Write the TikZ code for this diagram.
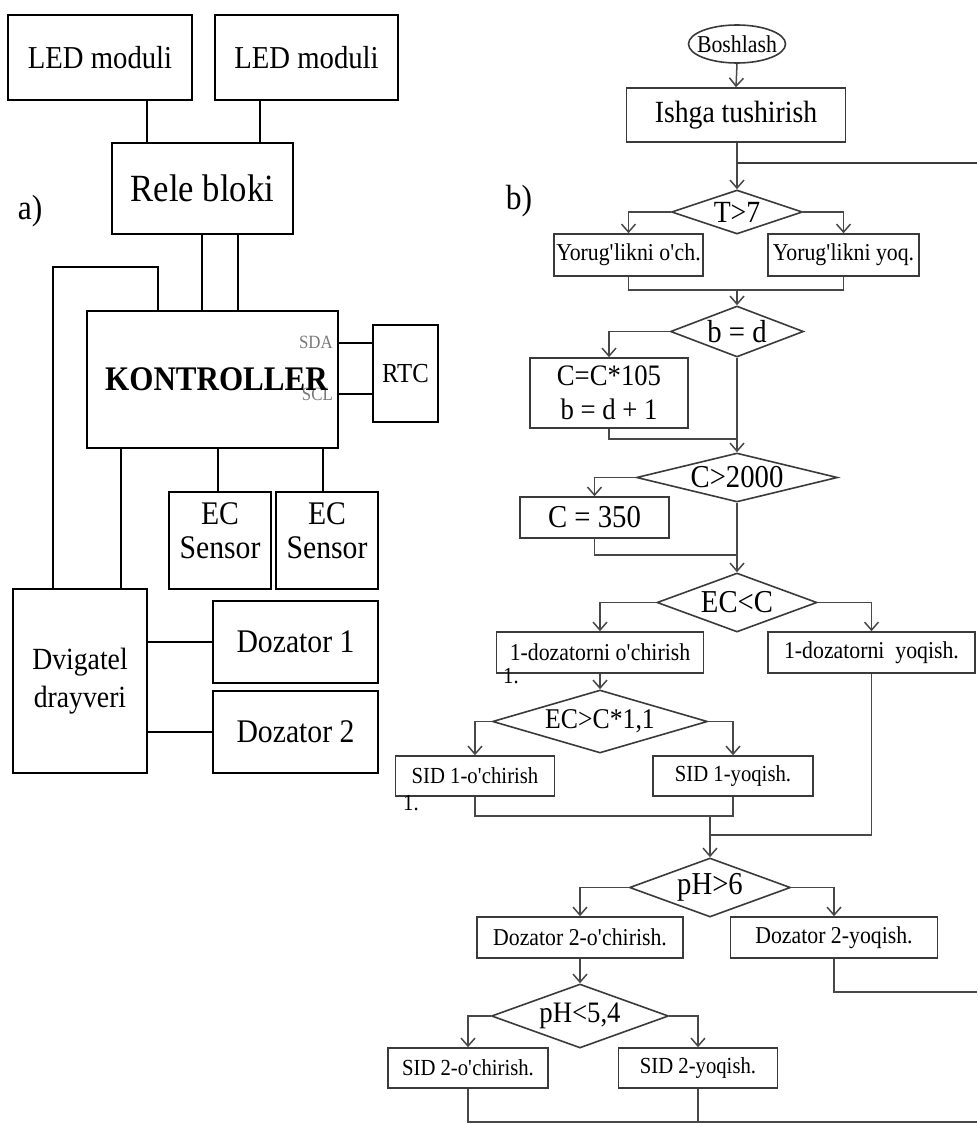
\documentclass[tikz,border=0pt]{standalone}
\usepackage{fontspec}
\setmainfont{Liberation Serif}[FakeStretch=0.9]
\usetikzlibrary{shapes.geometric,arrows.meta}
\newcommand\ap{\textquotesingle}
\definecolor{fline}{RGB}{72,72,72}
\definecolor{fbord}{RGB}{58,58,58}
\definecolor{pinc}{RGB}{120,120,120}

\begin{document}
\begin{tikzpicture}[x=1pt,y=-1pt,
  blk/.style={draw=black, line width=2.4pt, rectangle, inner sep=0pt},
  wire/.style={draw=black, line width=2.3pt},
  fbox/.style={draw=fbord, line width=1.6pt, rectangle, inner sep=0pt},
  fdia/.style={draw=fbord, line width=1.6pt, diamond, inner sep=0pt},
  flow/.style={draw=fline, line width=1.5pt},
  arr/.style={flow, -{Straight Barb[length=8pt,width=14pt]}},
  topret/.style={draw=fline!80!black, line width=2.4pt},
  f17/.style={font=\fontsize{18.7pt}{22pt}\selectfont},
  f21/.style={font=\fontsize{23pt}{27pt}\selectfont},
  f22/.style={font=\fontsize{24.2pt}{28pt}\selectfont},
  f26/.style={font=\fontsize{28.6pt}{32pt}\selectfont},
  f27/.style={font=\fontsize{29.7pt}{34pt}\selectfont},
  f28/.style={font=\fontsize{30.8pt}{38pt}\selectfont},
  f29/.style={font=\fontsize{31.9pt}{36pt}\selectfont},
  f30/.style={font=\fontsize{33pt}{34pt}\selectfont},
  f32/.style={font=\fontsize{35pt}{40pt}\selectfont},
  f35/.style={font=\fontsize{38.5pt}{42pt}\selectfont},
  fkb/.style={font=\fontsize{34.5pt}{40pt}\selectfont\bfseries},
]
\useasboundingbox (0,0) rectangle (977,1124);

% ---------------- a) block diagram ----------------
\node[f32] (la) at (30,211) {a)};
\node[blk, f29, minimum width=184pt, minimum height=85pt] (led1) at (100,57.5) {LED moduli};
\node[blk, f29, minimum width=183pt, minimum height=85pt] (led2) at (306.5,57.5) {LED moduli};
\node[blk, f35, minimum width=181pt, minimum height=91pt] (rele) at (202.5,188.5) {Rele bloki};

% pin names of the I2C bus (drawn under the controller title)
\node[f17, text=pinc, anchor=base east, inner sep=0pt] (sda) at (333,348) {SDA};
\node[f17, text=pinc, anchor=base east, inner sep=0pt] (scl) at (333,400) {SCL};
\node[blk, minimum width=251pt, minimum height=137pt,
  label={[fkb, xshift=4pt]center:KONTROLLER}] (ctrl) at (212.5,379.5) {};

\node[blk, font=\fontsize{27.5pt}{32pt}\selectfont, minimum width=65pt, minimum height=97pt] (rtc) at (405.5,373.5) {RTC};
\node[blk, minimum width=102pt, minimum height=97pt,
  label={[f30, align=center, yshift=10pt]center:EC\\Sensor}] (ec1) at (220,540.5) {};
\node[blk, minimum width=102pt, minimum height=97pt,
  label={[f30, align=center, yshift=10pt]center:EC\\Sensor}] (ec2) at (327,540.5) {};
\node[blk, f28, align=center, minimum width=134pt, minimum height=184pt] (drv) at (80,681) {Dvigatel\\drayveri};
\node[blk, f30, minimum width=165pt, minimum height=82pt] (doz1) at (295.5,642) {Dozator 1};
\node[blk, f30, minimum width=165pt, minimum height=82pt] (doz2) at (295.5,732) {Dozator 2};

\draw[wire] (147,0 |- led1.south) -- (147,0 |- rele.north);
\draw[wire] (260,0 |- led2.south) -- (260,0 |- rele.north);
\draw[wire] (202,0 |- rele.south) -- (202,0 |- ctrl.north);
\draw[wire] (238,0 |- rele.south) -- (238,0 |- ctrl.north);
\coordinate (lp) at (53,267);
\draw[wire] (158,0 |- ctrl.north) |- (lp) -- (lp |- drv.north);
\draw[wire] (121,0 |- ctrl.south) -- (121,0 |- drv.north);
\draw[wire] (218,0 |- ctrl.south) -- (218,0 |- ec1.north);
\draw[wire] (323,0 |- ctrl.south) -- (323,0 |- ec2.north);
\draw[wire] (ctrl.east |- 0,343) -- (rtc.west |- 0,343);
\draw[wire] (ctrl.east |- 0,394) -- (rtc.west |- 0,394);
\draw[wire] (drv.east |- doz1.west) -- (doz1.west);
\draw[wire] (drv.east |- doz2.west) -- (doz2.west);

% ---------------- b) flowchart ----------------
\node[f32] (lb) at (519,201) {b)};
\node[ellipse, draw=fbord, line width=1.6pt, inner sep=0pt, minimum width=97pt, minimum height=38pt,
  label={[f22]center:Boshlash}] (start) at (737,44) {};
\node[fbox, f28, minimum width=219pt, minimum height=54pt] (init) at (736,115) {Ishga tushirish};

\node[fdia, minimum width=131pt, minimum height=44pt, label={[f28]center:T>7}] (dT) at (737,212) {};
\node[fbox, f22, minimum width=149pt, minimum height=42pt] (yoff) at (628.5,255) {Yorug\ap likni o\ap ch.};
\node[fbox, f22, minimum width=151pt, minimum height=42pt] (yon) at (843.5,255) {Yorug\ap likni yoq.};

\node[fdia, minimum width=133pt, minimum height=51pt, label={[f29]center:b = d}] (dbd) at (737,331.5) {};
\node[fbox, f27, align=center, minimum width=158pt, minimum height=70pt] (calc) at (609,393) {C=C*105\\b = d + 1};

\node[fdia, minimum width=201pt, minimum height=49pt, label={[f29]center:C>2000}] (dC) at (737,477.5) {};
\node[fbox, f29, minimum width=149pt, minimum height=41pt] (c350) at (594.5,517.5) {C = 350};

\node[fdia, minimum width=160pt, minimum height=59pt, label={[f29]center:EC<C}] (dEC) at (737,602.5) {};
\node[fbox, f22, minimum width=207pt, minimum height=41pt] (d1off) at (600,652.5) {1-dozatorni o\ap chirish};
\node[f21, anchor=base west, inner sep=0pt] (n1) at (503,683) {1.};
\node[fbox, f22, minimum width=207pt, minimum height=41pt] (d1on) at (871.5,652.5) {1-dozatorni\ \ yoqish.};

\node[fdia, minimum width=215pt, minimum height=63pt, label={[f26]center:EC>C*1,1}] (dEC2) at (600,721.5) {};
\node[fbox, f21, minimum width=159pt, minimum height=40pt] (s1off) at (475,776) {SID 1-o\ap chirish};
\node[f21, anchor=base west, inner sep=0pt] (n2) at (403,810) {1.};
\node[fbox, f21, minimum width=160pt, minimum height=40pt] (s1on) at (733,776) {SID 1-yoqish.};

\node[fdia, minimum width=161pt, minimum height=59pt, label={[f29]center:pH>6}] (dpH) at (710,887.5) {};
\node[fbox, f22, minimum width=206pt, minimum height=41pt] (d2off) at (580,937.5) {Dozator 2-o\ap chirish.};
\node[fbox, f22, minimum width=207pt, minimum height=41pt] (d2on) at (834,937.5) {Dozator 2-yoqish.};

\node[fdia, minimum width=177pt, minimum height=64pt, label={[f27]center:pH<5,4}] (dpH2) at (580,1016) {};
\node[fbox, f21, minimum width=160pt, minimum height=40pt] (s2off) at (468,1068) {SID 2-o\ap chirish.};
\node[fbox, f21, minimum width=159pt, minimum height=40pt] (s2on) at (698,1068) {SID 2-yoqish.};

% main column
\draw[arr] (start.south) -- (init.north);
\draw[arr] (init.south -| dT.north) -- (dT.north);
\coordinate (r1) at (977,163);
\draw[topret] (dT.north |- r1) -- (r1);

\draw[arr] (dT.west) -| (yoff.north);
\draw[arr] (dT.east) -| (yon.north);
\coordinate (m1) at (737,290);
\draw[flow] (yoff.south) |- (m1) -| (yon.south);
\draw[arr] (m1) -- (dbd.north);

\draw[arr] (dbd.west) -| (calc.north);
\coordinate (m2) at (737,439);
\draw[flow] (calc.south) |- (m2);
\draw[arr] (dbd.south) -- (dC.north);

\draw[arr] (dC.west) -| (c350.north);
\coordinate (m3) at (737,555);
\draw[flow] (c350.south) |- (m3);
\draw[arr] (dC.south) -- (dEC.north);

\draw[arr] (dEC.west) -| (d1off.north);
\draw[arr] (dEC.east) -| (d1on.north);
\draw[arr] (d1off.south) -- (dEC2.north);
\draw[arr] (dEC2.west) -| (s1off.north);
\draw[arr] (dEC2.east) -| (s1on.north);
\coordinate (m4) at (710,816);
\coordinate (m5) at (710,835);
\draw[flow] (s1off.south) |- (m4) -| (s1on.south);
\draw[flow] (d1on.south) |- (m5);
\draw[arr] (m4) -- (dpH.north);

\draw[arr] (dpH.west) -| (d2off.north);
\draw[arr] (dpH.east) -| (d2on.north);
\coordinate (r2) at (977,992);
\draw[flow] (d2on.south) |- (r2);
\draw[arr] (d2off.south) -- (dpH2.north);
\draw[arr] (dpH2.west) -| (s2off.north);
\draw[arr] (dpH2.east) -| (s2on.north);
\coordinate (r3) at (977,1122);
\draw[flow] (s2off.south) |- (r3);
\draw[flow] (s2on.south) -- (s2on.south |- r3);
\end{tikzpicture}
\end{document}
